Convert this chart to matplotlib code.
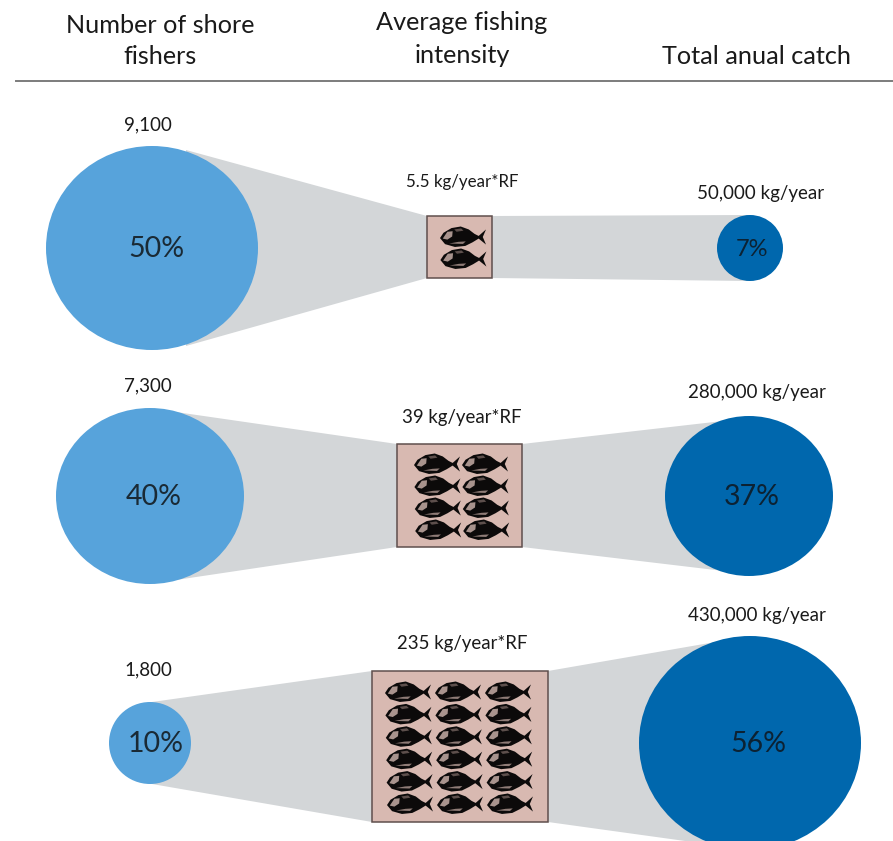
import matplotlib
matplotlib.use('Agg')
import matplotlib.pyplot as plt
from matplotlib.patches import Ellipse, Polygon, Rectangle, PathPatch
from matplotlib.path import Path
from matplotlib.transforms import Affine2D

plt.rcParams['font.family'] = ['Lato', 'DejaVu Sans']

W, H = 893, 841

# values
headers = ['Number of shore\nfishers', 'Average fishing\nintensity', 'Total anual catch']
fisher_counts = ['9,100', '7,300', '1,800']
fisher_shares = ['50%', '40%', '10%']
intensity_labels = ['5.5 kg/year*RF', '39 kg/year*RF', '235 kg/year*RF']
catch_labels = ['50,000 kg/year', '280,000 kg/year', '430,000 kg/year']
catch_shares = ['7%', '37%', '56%']
fish_cols = [1, 2, 3]
fish_rows = [2, 4, 6]

# layout in pixels
row_y = [248, 496, 743]
left_x = [152, 150, 150]
left_rx = [106, 94, 41]
left_ry = [102, 88, 41]
right_x = [750, 749, 750]
right_rx = [33, 84, 111]
right_ry = [33, 80, 107]
box_x0 = [427, 397, 372]
box_x1 = [492, 522, 548]
box_y0 = [216, 444, 671]
box_y1 = [278, 547, 822]
# x where the grey band meets each circle, and half height there
left_join = [[186, 98], [176, 84], [152, 41]]
right_join = [[750, 33], [749, 78], [750, 107]]
count_y = [125, 386, 670]
intensity_y = [182, 417, 644]
catch_y = [193, 392, 616]
share_x = [156, 154, 156]
catch_share_x = [752, 752, 758]
catch_x = [761, 757, 757]
share_size = [20.5, 20.5, 20.5]
catch_share_size = [17, 20.5, 20.5]
intensity_size = [12.2, 13.4, 13.4]
fish_x0 = [463, 437, 408]
fish_dx = [0, 48, 50]
fish_y0 = [237, 464, 692]
fish_dy = [22, 22, 22.4]

LIGHT = '#57a3db'
DARK = '#0067ad'
GREY = '#d3d6d8'
BOX = '#d8b9b1'

# fish outline, unit box, head on the left
body = [(-1.0, 0.1), (-0.85, -0.4), (-0.5, -0.85), (-0.1, -1.0), (0.25, -0.72),
        (0.5, -0.3), (0.68, -0.1), (1.0, -0.72), (0.86, 0.0), (1.0, 0.72),
        (0.68, 0.15), (0.42, 0.5), (0.1, 0.85), (-0.35, 0.95), (-0.78, 0.68), (-1.0, 0.1)]
body_path = Path(body, [Path.MOVETO] + [Path.LINETO] * (len(body) - 2) + [Path.CLOSEPOLY])
gill = [(-0.68, -0.5), (-0.45, -0.55), (-0.47, -0.05), (-0.68, 0.25), (-0.88, 0.15), (-0.68, -0.5)]
gill_path = Path(gill, [Path.MOVETO] + [Path.LINETO] * (len(gill) - 2) + [Path.CLOSEPOLY])
belly = [(-0.6, 0.62), (0.0, 0.66), (0.12, 0.42), (-0.2, 0.46), (-0.6, 0.62)]
belly_path = Path(belly, [Path.MOVETO] + [Path.LINETO] * (len(belly) - 2) + [Path.CLOSEPOLY])
back = [(-0.38, -0.72), (-0.08, -0.82), (0.02, -0.6), (-0.28, -0.5), (-0.38, -0.72)]
back_path = Path(back, [Path.MOVETO] + [Path.LINETO] * (len(back) - 2) + [Path.CLOSEPOLY])


def draw_fish(ax, x, y, half_w, half_h):
    tr = Affine2D().scale(half_w, half_h).translate(x, y) + ax.transData
    ax.add_patch(PathPatch(body_path, facecolor='#0c0a0a', edgecolor='none', transform=tr, zorder=4))
    for p, c in [(gill_path, '#a8938d'), (belly_path, '#8f7c77'), (back_path, '#5d4f4c')]:
        ax.add_patch(PathPatch(p, facecolor=c, edgecolor='none', transform=tr, zorder=5))


fig = plt.figure(figsize=(W / 100, H / 100), dpi=100)
ax = fig.add_axes([0, 0, 1, 1])
ax.set_xlim(0, W)
ax.set_ylim(H, 0)
ax.axis('off')

# header
ax.text(160, 41, headers[0], ha='center', va='center', fontsize=18.2, linespacing=1.42, color='#1a1a1a')
ax.text(462, 39, headers[1], ha='center', va='center', fontsize=18.2, linespacing=1.5, color='#1a1a1a')
ax.text(756, 56, headers[2], ha='center', va='center', fontsize=18.2, color='#1a1a1a')
ax.plot([16, 893], [81, 81], color='#7c7c7c', lw=1.4)

for i in range(3):
    y = row_y[i]
    # grey bands
    ax.add_patch(Polygon([(left_join[i][0], y - left_join[i][1]), (box_x0[i], box_y0[i]),
                          (box_x0[i], box_y1[i]), (left_join[i][0], y + left_join[i][1])],
                         facecolor=GREY, edgecolor='none', zorder=1))
    ax.add_patch(Polygon([(box_x1[i], box_y0[i]), (right_join[i][0], y - right_join[i][1]),
                          (right_join[i][0], y + right_join[i][1]), (box_x1[i], box_y1[i])],
                         facecolor=GREY, edgecolor='none', zorder=1))
    # circles
    ax.add_patch(Ellipse((left_x[i], y), 2 * left_rx[i], 2 * left_ry[i], facecolor=LIGHT, edgecolor='none', zorder=2))
    ax.add_patch(Ellipse((right_x[i], y), 2 * right_rx[i], 2 * right_ry[i], facecolor=DARK, edgecolor='none', zorder=2))
    # box with fish
    ax.add_patch(Rectangle((box_x0[i], box_y0[i]), box_x1[i] - box_x0[i], box_y1[i] - box_y0[i],
                           facecolor=BOX, edgecolor='#5f4f4d', lw=1.1, zorder=3))
    for r in range(fish_rows[i]):
        for c in range(fish_cols[i]):
            draw_fish(ax, fish_x0[i] + c * fish_dx[i] + r * 0.4, fish_y0[i] + r * fish_dy[i], 23, 10.5)
    # labels
    ax.text(share_x[i], y + 1, fisher_shares[i], ha='center', va='center',
            fontsize=share_size[i], color='#1a2a35', zorder=6)
    ax.text(catch_share_x[i], y + 1, catch_shares[i], ha='center', va='center',
            fontsize=catch_share_size[i], color='#0c2233', zorder=6)
    ax.text(148, count_y[i], fisher_counts[i], ha='center', va='center', fontsize=13.5, color='#1a1a1a')
    ax.text(462, intensity_y[i], intensity_labels[i], ha='center', va='center', fontsize=intensity_size[i], color='#1a1a1a')
    ax.text(catch_x[i], catch_y[i], catch_labels[i], ha='center', va='center', fontsize=13.5, color='#1a1a1a')

fig.savefig('out.png', dpi=100)
